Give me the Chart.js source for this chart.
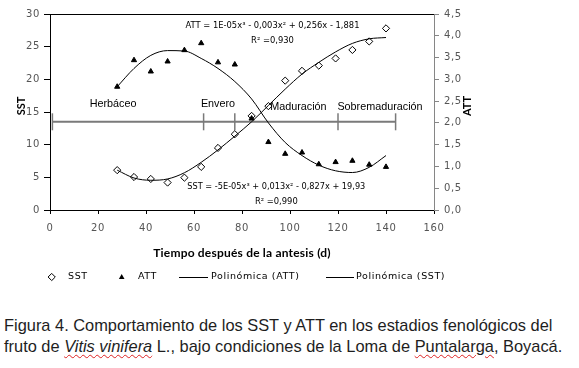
<!DOCTYPE html>
<html>
<head>
<meta charset="utf-8">
<script src="https://cdn.jsdelivr.net/npm/chart.js@4"></script>
<style>
  body { margin: 0; background: #fff; width: 579px; height: 368px; position: relative; overflow: hidden; }
  #wrap { position: absolute; left: 0; top: 0; width: 579px; height: 300px; }
  #caption {
    position: absolute; left: 4px; top: 315px; width: 575px;
    font-family: "Liberation Sans", Arial, sans-serif; font-size: 16.4px; line-height: 20.7px;
    color: #1e1e1e; white-space: nowrap;
  }
  .sp { text-decoration: underline wavy #d22; text-decoration-thickness: 1px; text-underline-offset: 2px; }
</style>
</head>
<body>
<div id="wrap"><canvas id="chart" width="579" height="300"></canvas></div>
<div id="caption">Figura 4. Comportamiento de los SST y ATT en los estadios fenológicos del<br>fruto de <i class="sp">Vitis vinifera</i> L., bajo condiciones de la Loma de <span class="sp">Puntalarga</span>, Boyacá.</div>
<script>
// dias despues de antesis
const days = [28, 35, 42, 49, 56, 63, 70, 77, 84, 91, 98, 105, 112, 119, 126, 133, 140];
const sstValues = [6.1, 5.05, 4.75, 4.2, 4.95, 6.6, 9.5, 11.6, 14.4, 15.9, 19.8, 21.3, 22.1, 23.2, 24.5, 25.8, 27.8];
const attValues = [2.83, 3.44, 3.18, 3.41, 3.67, 3.83, 3.39, 3.34, 2.10, 1.56, 1.29, 1.32, 1.05, 1.10, 1.13, 1.04, 0.99];

// curvas de tendencia
const attTrend = [2.83, 3.25, 3.55, 3.66, 3.65, 3.48, 3.25, 2.95, 2.55, 2.0, 1.55, 1.25, 1.03, 0.9, 0.86, 0.98, 1.25];
const sstTrend = [6.1, 4.9, 4.55, 4.75, 5.7, 7.3, 9.2, 11.3, 13.5, 16.0, 18.5, 20.8, 22.6, 24.2, 25.5, 26.2, 26.4];

// estadios fenologicos
const phaseBounds = [1, 64, 77, 120, 144];
const phaseNames = ['Herbáceo', 'Envero', 'Maduración', 'Sobremaduración'];
const phaseLevel = 13.5;

const xTicks = [0, 20, 40, 60, 80, 100, 120, 140, 160];
const sstTicks = [0, 5, 10, 15, 20, 25, 30];
const attTicks = [0, 0.5, 1, 1.5, 2, 2.5, 3, 3.5, 4, 4.5];

const attEquation = 'ATT = 1E-05x³ - 0,003x² + 0,256x - 1,881';
const attR2 = 'R² =0,930';
const sstEquation = 'SST = -5E-05x³ + 0,013x² - 0,827x + 19,93';
const sstR2 = 'R² =0,990';

const toPts = (ys) => days.map((d, i) => ({ x: d, y: ys[i] }));

const datasets = [
    {
        label: 'SST', data: toPts(sstValues), yAxisID: 'y',
        pointStyle: 'rectRot', pointRadius: 3.6, borderColor: '#000', borderWidth: 1,
        backgroundColor: 'rgba(255,255,255,0)', showLine: false, order: 1
    },
    {
        label: 'ATT', data: toPts(attValues), yAxisID: 'y1',
        pointStyle: 'triangle', pointRadius: 3, borderColor: '#000', borderWidth: 1,
        backgroundColor: '#000', showLine: false, order: 1
    },
    {
        label: 'Polinómica (ATT)', data: toPts(attTrend), yAxisID: 'y1',
        showLine: true, pointRadius: 0, borderColor: '#000', borderWidth: 1,
        cubicInterpolationMode: 'monotone', order: 2
    },
    {
        label: 'Polinómica (SST)', data: toPts(sstTrend), yAxisID: 'y',
        showLine: true, pointRadius: 0, borderColor: '#000', borderWidth: 1,
        cubicInterpolationMode: 'monotone', order: 2
    },
    {
        label: 'fases', data: [{ x: phaseBounds[0], y: phaseLevel }, { x: phaseBounds[phaseBounds.length - 1], y: phaseLevel }],
        yAxisID: 'y', showLine: true, pointRadius: 0, borderColor: '#7a7a7a', borderWidth: 2, order: 3
    }
];
// marcas verticales de cada limite de fase
phaseBounds.forEach(b => {
    datasets.push({
        label: 'limite', data: [{ x: b, y: phaseLevel - 1.3 }, { x: b, y: phaseLevel + 1.3 }],
        yAxisID: 'y', showLine: true, pointRadius: 0, borderColor: '#7a7a7a', borderWidth: 1.5, order: 3
    });
});

const tickFont = { family: 'DejaVu Sans', size: 10 };
const tickColor = '#555';

const extras = {
    id: 'extras',
    beforeDraw(chart) {
        chart.ctx.letterSpacing = '0.6px';
    },
    beforeDatasetsDraw(chart) {
        const ctx = chart.ctx, a = chart.chartArea;
        ctx.save();
        ctx.strokeStyle = '#000';
        ctx.lineWidth = 1;
        ctx.beginPath();
        ctx.moveTo(a.left, a.top + 0.5);
        ctx.lineTo(a.right, a.top + 0.5);
        ctx.stroke();
        ctx.restore();
    },
    afterDraw(chart) {
        const ctx = chart.ctx;
        const sx = chart.scales.x, sy = chart.scales.y;
        ctx.save();
        ctx.letterSpacing = '0px';
        ctx.fillStyle = '#000';
        ctx.textBaseline = 'middle';

        // nombres de las fases
        ctx.font = '10.8px "Liberation Sans"';
        ctx.textAlign = 'center';
        const phasePos = [[26.3, 16.2], [70, 16.2], [103.5, 15.7], [137.5, 15.7]];
        phaseNames.forEach((n, i) => {
            ctx.fillText(n, sx.getPixelForValue(phasePos[i][0]), sy.getPixelForValue(phasePos[i][1]));
        });

        // ecuaciones
        ctx.font = '8.4px "DejaVu Sans"';
        ctx.fillText(attEquation, sx.getPixelForValue(92.7), sy.getPixelForValue(28.2), 174);
        ctx.fillText(attR2, sx.getPixelForValue(92.7), sy.getPixelForValue(25.9));
        ctx.fillText(sstEquation, sx.getPixelForValue(94.3), sy.getPixelForValue(3.57), 178);
        ctx.fillText(sstR2, sx.getPixelForValue(94.3), sy.getPixelForValue(1.27));

        // titulos de ejes
        ctx.font = 'bold 12px Lato';
        ctx.letterSpacing = '0.2px';
        ctx.fillText('Tiempo después de la antesis (d)', (chart.chartArea.left + chart.chartArea.right) / 2, 253);
        ctx.letterSpacing = '0px';
        ctx.font = 'bold 11px Lato';
        ctx.save();
        ctx.translate(21, 106);
        ctx.rotate(-Math.PI / 2);
        ctx.fillText('SST', 0, 0);
        ctx.restore();
        ctx.save();
        ctx.translate(467, 106);
        ctx.rotate(-Math.PI / 2);
        ctx.fillText('ATT', 0, 0);
        ctx.restore();

        // leyenda
        const ly = 277;
        ctx.font = '9.5px "DejaVu Sans"';
        ctx.letterSpacing = '0.6px';
        ctx.textAlign = 'left';
        ctx.strokeStyle = '#000';
        ctx.lineWidth = 1;
        // diamante
        ctx.beginPath();
        ctx.moveTo(51.7, ly - 3.6); ctx.lineTo(55.3, ly); ctx.lineTo(51.7, ly + 3.6); ctx.lineTo(48.1, ly);
        ctx.closePath(); ctx.stroke();
        ctx.fillText(datasets[0].label, 68, ly);
        // triangulo
        ctx.beginPath();
        ctx.moveTo(121.7, ly - 3); ctx.lineTo(124.5, ly + 2); ctx.lineTo(118.9, ly + 2);
        ctx.closePath(); ctx.fill();
        ctx.fillText(datasets[1].label, 138, ly);
        // lineas
        ctx.beginPath(); ctx.moveTo(179, ly + 0.5); ctx.lineTo(208, ly + 0.5); ctx.stroke();
        ctx.fillText(datasets[2].label, 211, ly);
        ctx.beginPath(); ctx.moveTo(326, ly + 0.5); ctx.lineTo(354, ly + 0.5); ctx.stroke();
        ctx.fillText(datasets[3].label, 356, ly);
        ctx.restore();
    }
};

new Chart(document.getElementById('chart'), {
    type: 'scatter',
    data: { datasets: datasets },
    options: {
        responsive: false,
        animation: false,
        devicePixelRatio: 1,
        layout: { padding: { top: 14, left: 0, right: 0, bottom: 0 } },
        plugins: { legend: { display: false }, tooltip: { enabled: false } },
        scales: {
            x: {
                type: 'linear', min: 0, max: 160,
                afterFit: s => { s.height = 90; },
                afterBuildTicks: s => { s.ticks = xTicks.map(v => ({ value: v })); },
                grid: { drawOnChartArea: false, tickLength: 4, color: '#000' },
                border: { color: '#000' },
                ticks: { font: tickFont, color: tickColor, padding: 8, maxRotation: 0 }
            },
            y: {
                type: 'linear', position: 'left', min: 0, max: 30,
                afterFit: s => { s.width = 50; },
                afterBuildTicks: s => { s.ticks = sstTicks.map(v => ({ value: v })); },
                grid: { drawOnChartArea: false, tickLength: 6, color: '#000' },
                border: { color: '#000' },
                ticks: { font: tickFont, color: tickColor, padding: 4 }
            },
            y1: {
                type: 'linear', position: 'right', min: 0, max: 4.5,
                afterFit: s => { s.width = 145; },
                afterBuildTicks: s => { s.ticks = attTicks.map(v => ({ value: v })); },
                grid: { drawOnChartArea: false, tickLength: 5, color: '#868686' },
                border: { color: '#868686' },
                ticks: {
                    font: tickFont, color: tickColor, padding: 5,
                    callback: v => v.toFixed(1).replace('.', ',')
                }
            }
        }
    },
    plugins: [extras]
});
</script>
</body>
</html>
